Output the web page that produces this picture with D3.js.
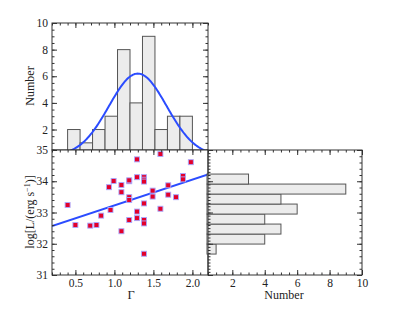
<!DOCTYPE html>
<html>
<head>
<meta charset="utf-8">
<script src="https://cdn.jsdelivr.net/npm/d3@7"></script>
<style>
body { margin: 0; background: #fff; }
text { font-family: "Liberation Serif", "DejaVu Serif", serif; fill: #222; }
</style>
</head>
<body>
<svg id="chart" width="399" height="310"></svg>
<script>
// scatter points: photon index vs log luminosity
var photonIndex = [0.40, 0.50, 0.69, 0.77, 0.83, 0.93, 0.99, 0.95, 1.09, 1.09, 1.09, 1.19, 1.19,
    1.19, 1.19, 1.19, 1.29, 1.29, 1.29, 1.29, 1.38, 1.38, 1.38, 1.38, 1.38, 1.38, 1.38, 1.49,
    1.49, 1.59, 1.59, 1.69, 1.69, 1.79, 1.88, 1.88, 1.98];
var logLum = [33.24, 32.60, 32.58, 32.60, 32.90, 33.81, 34.01, 33.08, 33.88, 33.65, 32.40, 34.00, 34.03,
    33.49, 33.40, 32.76, 34.70, 34.13, 33.03, 32.82, 34.13, 34.05, 33.99, 33.29, 32.76, 32.65, 31.68, 33.70,
    33.51, 34.87, 33.12, 33.87, 33.57, 33.49, 34.17, 34.06, 34.61];

// histogram of photon index (top)
var gammaStart = 0.40, gammaStep = 0.16;
var gammaCounts = [2, 1, 2, 3, 8, 4, 9, 2, 3, 3];

// histogram of luminosity (right)
var lumStart = 31.67, lumStep = 0.32;
var lumCounts = [1, 0, 4, 5, 4, 6, 5, 9, 0, 3];

// fits
var gaussPeak = 6.2, gaussMean = 1.30, gaussSigma = 0.37;
var lineIntercept = 32.405, lineSlope = 0.825;

// tick labels
var gammaTicks = [0.5, 1.0, 1.5, 2.0];
var lumTicks = [31, 32, 33, 34, 35];
var countTicks = [2, 4, 6, 8, 10];

var svg = d3.select("#chart");
var axisColor = "#333";

var xG = d3.scaleLinear().domain([0.2, 2.2]).range([52, 208]);
var yL = d3.scaleLinear().domain([31, 35]).range([275, 150]);
var yN = d3.scaleLinear().domain([0.5, 10]).range([149.5, 23]);
var xN = d3.scaleLinear().domain([0.5, 10]).range([208, 362]);

function minorValues(domain, step) {
    var out = [];
    var start = Math.ceil(domain[0] / step - 1e-6);
    for (var i = start; i * step <= domain[1] + 1e-6; i++) out.push(+(i * step).toFixed(4));
    return out;
}

function drawAxis(g, maker, scale, majors, minorStep, fmt) {
    var major = maker(scale).tickValues(majors).tickSize(-5).tickPadding(4)
        .tickFormat(fmt ? fmt : "");
    var minor = maker(scale).tickValues(minorValues(scale.domain(), minorStep))
        .tickSize(-2.5).tickFormat("");
    var gm = g.append("g").call(minor);
    gm.select(".domain").remove();
    var gM = g.append("g").call(major);
    gM.select(".domain").remove();
    g.selectAll("g").attr("font-family", null);
    g.selectAll("line").attr("stroke", axisColor);
    g.selectAll("text").attr("font-size", 11.5).attr("fill", "#222");
}

// ---------- top histogram ----------
var topPanel = svg.append("g");
topPanel.append("defs").append("clipPath").attr("id", "clipTop")
    .append("rect").attr("x", 52).attr("y", 23).attr("width", 156).attr("height", 127);

topPanel.append("g").attr("clip-path", "url(#clipTop)")
    .selectAll("rect").data(gammaCounts).enter().append("rect")
    .attr("x", function(d, i) { return xG(gammaStart + i * gammaStep); })
    .attr("width", xG(gammaStep) - xG(0))
    .attr("y", function(d) { return yN(Math.max(d, 0.5)); })
    .attr("height", function(d) { return yN(0.5) - yN(Math.max(d, 0.5)) + 1; })
    .attr("fill", "#ececec").attr("stroke", "#555").attr("stroke-width", 1);

var gaussPts = d3.range(0.2, 2.2001, 0.01).map(function(g) {
    return [g, gaussPeak * Math.exp(-Math.pow(g - gaussMean, 2) / (2 * gaussSigma * gaussSigma))];
});
topPanel.append("path").attr("clip-path", "url(#clipTop)")
    .datum(gaussPts)
    .attr("d", d3.line().x(function(d) { return xG(d[0]); }).y(function(d) { return yN(d[1]); }))
    .attr("fill", "none").attr("stroke", "#2b4cff").attr("stroke-width", 2);

drawAxis(topPanel.append("g").attr("transform", "translate(52,0)"), d3.axisLeft, yN, countTicks, 0.5, d3.format("d"));
drawAxis(topPanel.append("g").attr("transform", "translate(208,0)"), d3.axisRight, yN, countTicks, 0.5, null);
drawAxis(topPanel.append("g").attr("transform", "translate(0,23)"), d3.axisTop, xG, gammaTicks, 0.1, null);
topPanel.append("rect").attr("x", 52).attr("y", 23).attr("width", 156).attr("height", 127)
    .attr("fill", "none").attr("stroke", axisColor);

topPanel.append("text").attr("transform", "translate(34,86) rotate(-90)")
    .attr("text-anchor", "middle").attr("font-size", 12).text("Number");

// ---------- scatter ----------
var midPanel = svg.append("g");
midPanel.append("defs").append("clipPath").attr("id", "clipMid")
    .append("rect").attr("x", 52).attr("y", 150).attr("width", 156).attr("height", 125);
midPanel.append("rect").attr("x", 52).attr("y", 150).attr("width", 156).attr("height", 125)
    .attr("fill", "#fff");

midPanel.append("line").attr("clip-path", "url(#clipMid)")
    .attr("x1", xG(0.2)).attr("y1", yL(lineIntercept + lineSlope * 0.2))
    .attr("x2", xG(2.2)).attr("y2", yL(lineIntercept + lineSlope * 2.2))
    .attr("stroke", "#2b4cff").attr("stroke-width", 2);

midPanel.append("g").selectAll("rect").data(photonIndex).enter().append("rect")
    .attr("x", function(d) { return xG(d) - 2.5; })
    .attr("y", function(d, i) { return yL(logLum[i]) - 2.5; })
    .attr("width", 5).attr("height", 5)
    .attr("fill", "#e3002a").attr("stroke", "#aaaaff").attr("stroke-width", 0.9);

drawAxis(midPanel.append("g").attr("transform", "translate(52,0)"), d3.axisLeft, yL, lumTicks, 0.2, d3.format("d"));
drawAxis(midPanel.append("g").attr("transform", "translate(0,275)"), d3.axisBottom, xG, gammaTicks, 0.1, d3.format(".1f"));
drawAxis(midPanel.append("g").attr("transform", "translate(0,150)"), d3.axisTop, xG, gammaTicks, 0.1, null);
midPanel.append("rect").attr("x", 52).attr("y", 150).attr("width", 156).attr("height", 125)
    .attr("fill", "none").attr("stroke", axisColor);

var ylab = midPanel.append("text").attr("transform", "translate(34,212) rotate(-90)")
    .attr("text-anchor", "middle").attr("font-size", 12);
ylab.append("tspan").text("log[L/(erg s");
ylab.append("tspan").attr("dy", -4).attr("font-size", 8).text("\u22121");
ylab.append("tspan").attr("dy", 4).text(")]");

midPanel.append("text").attr("x", 131).attr("y", 299).attr("text-anchor", "middle")
    .attr("font-size", 12.5).text("\u0393");

// ---------- right histogram ----------
var rightPanel = svg.append("g");
rightPanel.selectAll("rect.bar").data(lumCounts).enter().append("rect")
    .filter(function(d) { return d > 0; })
    .attr("class", "bar")
    .attr("x", xN(0.5) - 1)
    .attr("width", function(d) { return xN(d) - xN(0.5) + 1; })
    .attr("y", function(d, i) { return yL(lumStart + (i + 1) * lumStep); })
    .attr("height", yL(0) - yL(lumStep))
    .attr("fill", "#ececec").attr("stroke", "#555").attr("stroke-width", 1);

drawAxis(rightPanel.append("g").attr("transform", "translate(208,0)"), d3.axisLeft, yL, lumTicks, 0.1, null);
drawAxis(rightPanel.append("g").attr("transform", "translate(362,0)"), d3.axisRight, yL, lumTicks, 0.2, null);
drawAxis(rightPanel.append("g").attr("transform", "translate(0,275)"), d3.axisBottom, xN, countTicks, 0.5, d3.format("d"));
drawAxis(rightPanel.append("g").attr("transform", "translate(0,150)"), d3.axisTop, xN, countTicks, 0.5, null);
rightPanel.append("rect").attr("x", 208).attr("y", 150).attr("width", 154).attr("height", 125)
    .attr("fill", "none").attr("stroke", axisColor);

rightPanel.append("text").attr("x", 284).attr("y", 299).attr("text-anchor", "middle")
    .attr("font-size", 12).text("Number");
</script>
</body>
</html>
